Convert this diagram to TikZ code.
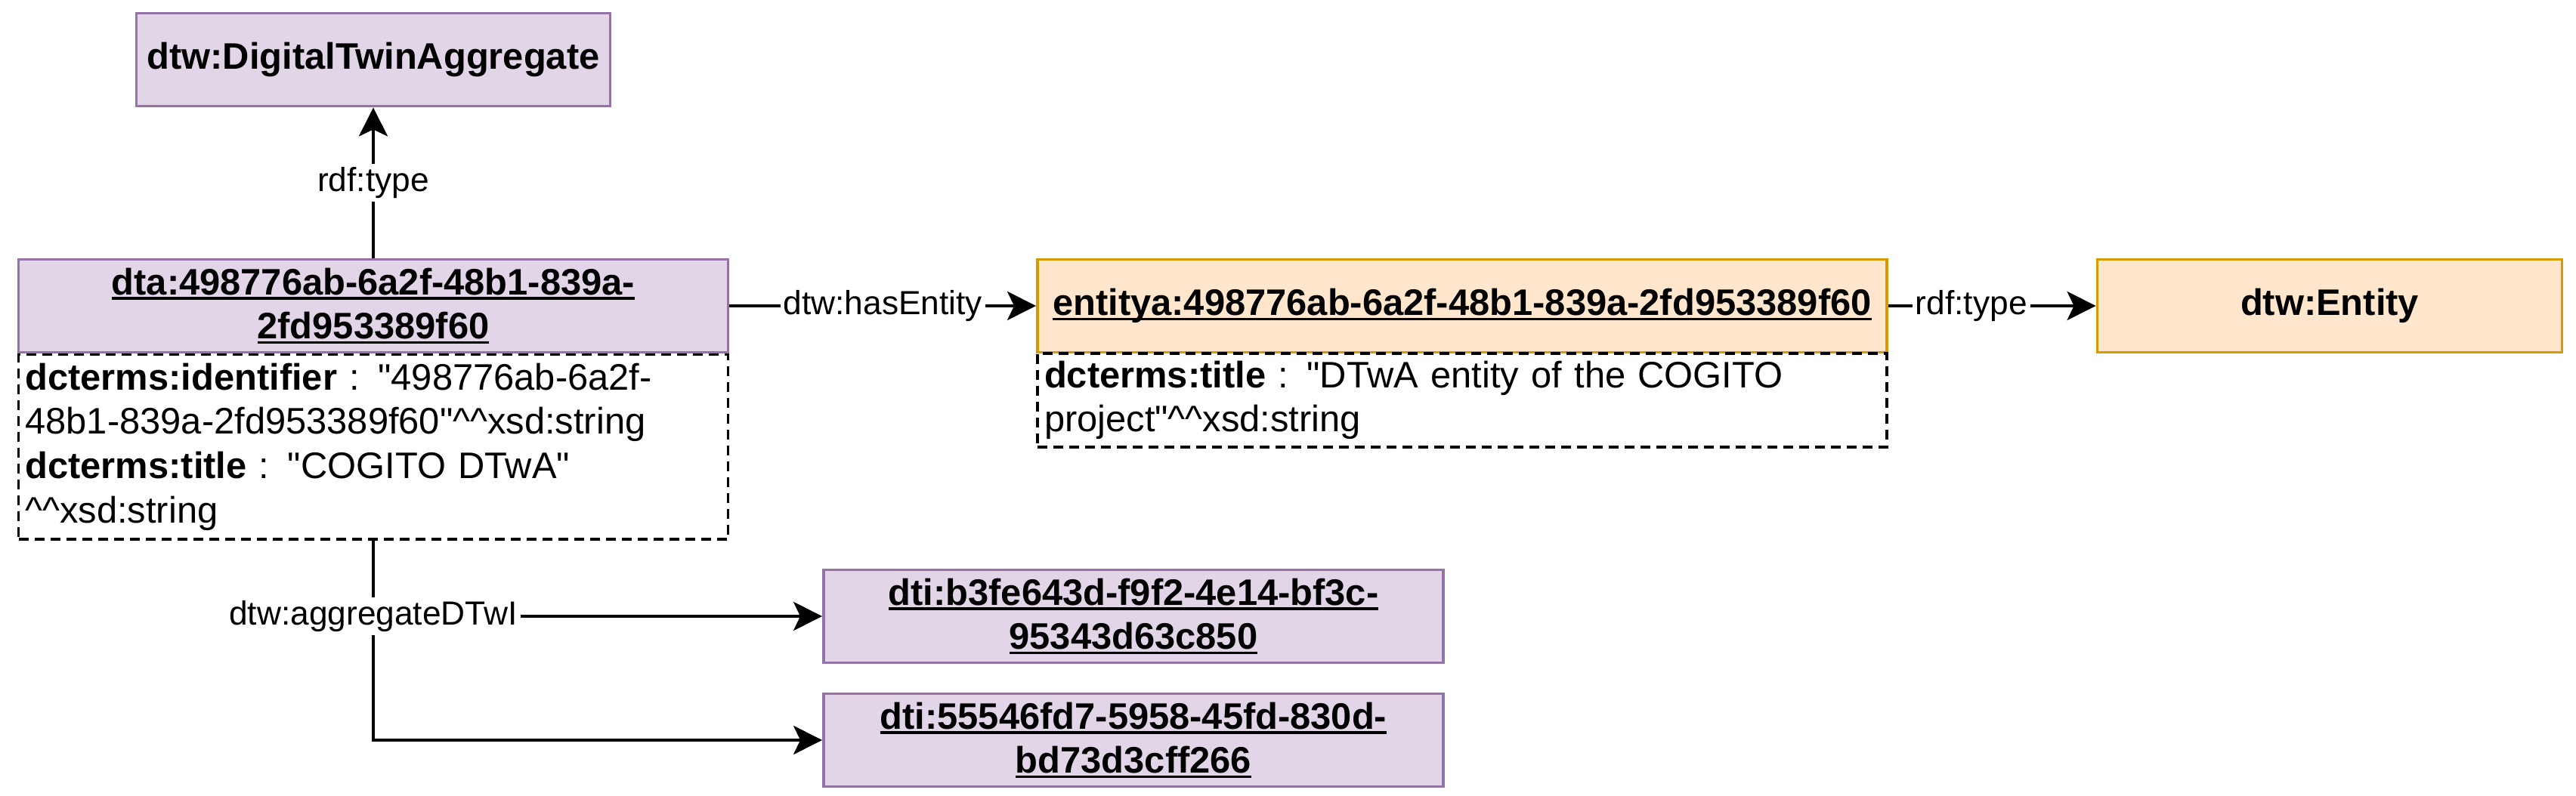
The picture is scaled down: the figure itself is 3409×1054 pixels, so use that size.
\documentclass[tikz,border=0pt]{standalone}
\usepackage{fontspec}
\setmainfont{Liberation Sans}
\usetikzlibrary{arrows.meta}

\definecolor{dtwpurple}{HTML}{E1D5E7}
\definecolor{dtwpurpleline}{HTML}{9673A6}
\definecolor{dtworange}{HTML}{FFE6CC}
\definecolor{dtworangeline}{HTML}{D79B00}

\newcommand{\hats}{\textasciicircum\textasciicircum}
\newcommand{\qq}{\textquotedbl}
\newcommand{\boxfont}{\fontsize{13.9pt}{16.7pt}\selectfont}
\newcommand{\lblfont}{\fontsize{12.6pt}{15pt}\selectfont}
\newsavebox{\dtwulbox}
\newcommand{\dtwul}[1]{\sbox{\dtwulbox}{#1}\rlap{\usebox{\dtwulbox}}\rule[-0.65mm]{\wd\dtwulbox}{1pt}}

\tikzset{
    purplebox/.style={draw=dtwpurpleline, fill=dtwpurple, line width=1.1pt, minimum height=12.3mm, align=center, font=\boxfont\bfseries, inner sep=0pt},
    orangebox/.style={draw=dtworangeline, fill=dtworange, line width=1.1pt, minimum height=12.3mm, align=center, font=\boxfont\bfseries, inner sep=0pt},
    propsbox/.style={draw, dash pattern=on 1.3mm off 0.8mm, line width=1.1pt, anchor=north, align=left, font=\boxfont, inner xsep=0.9mm, inner ysep=0pt},
    lbl/.style={fill=white, font=\lblfont, inner sep=0.4mm},
    link/.style={->, line width=1.2pt}
}

\begin{document}
\begin{tikzpicture}[x=0.1mm, y=-0.1mm, >={Stealth[length=3.8mm,width=3.8mm,inset=0.9mm]}]
    \useasboundingbox (0,0) rectangle (3409,1054);

    % aggregate and its properties
    \node[propsbox, text width=92.1mm, minimum height=24.5mm] (dtaprops) at (494,467)
        {\textbf{dcterms:identifier} : \qq 498776ab-6a2f-\\48b1-839a-2fd953389f60\qq\hats xsd:string\\\textbf{dcterms:title} : \qq COGITO DTwA\qq\\\hats xsd:string};
    \node[purplebox, minimum width=93.9mm] (dta) at (494,405) {\dtwul{dta:498776ab-6a2f-48b1-839a-}\\\dtwul{2fd953389f60}};
    \node[purplebox, minimum width=62.7mm] (agg) at (494,79) {dtw:DigitalTwinAggregate};

    % entity
    \node[orangebox, minimum width=112.4mm] (ent) at (1935,405) {\dtwul{entitya:498776ab-6a2f-48b1-839a-2fd953389f60}};
    \node[propsbox, text width=110.6mm, minimum height=12.4mm] (entprops) at (1935,466)
        {\textbf{dcterms:title} : \qq DTwA entity of the COGITO\\project\qq\hats xsd:string};
    \node[orangebox, minimum width=61.5mm] (entclass) at (3083,405) {dtw:Entity};

    % instances
    \node[purplebox, minimum width=82mm] (dti1) at (1500,816) {\dtwul{dti:b3fe643d-f9f2-4e14-bf3c-}\\\dtwul{95343d63c850}};
    \node[purplebox, minimum width=82mm] (dti2) at (1500,980) {\dtwul{dti:55546fd7-5958-45fd-830d-}\\\dtwul{bd73d3cff266}};

    \draw[link] (dta) -- (agg) node[lbl, midway] {rdf:type};
    \draw[link] (dta) -- (ent) node[lbl, midway] {dtw:hasEntity};
    \draw[link] (ent) -- (entclass) node[lbl, pos=0.4] {rdf:type};
    \draw[link] (dtaprops.south) |- (dti2.west);
    \draw[link] (dtaprops.south) |- (dti1.west) node[lbl, pos=0.5] {dtw:aggregateDTwI};
\end{tikzpicture}
\end{document}
